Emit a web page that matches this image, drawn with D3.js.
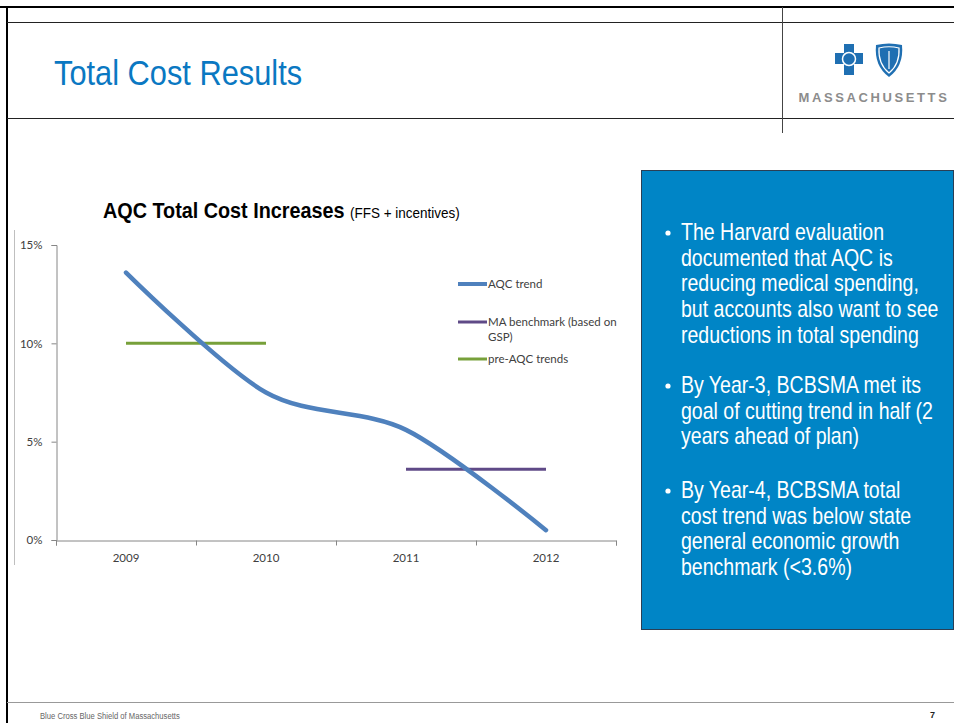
<!DOCTYPE html>
<html><head><meta charset="utf-8">
<script src="https://cdn.jsdelivr.net/npm/d3@7"></script>
<style>
html,body{margin:0;padding:0;background:#fff;}
svg{display:block;}
</style></head>
<body>
<svg id="chart" width="954" height="723"></svg>
<script>
const years = ["2009","2010","2011","2012"];
const aqcTrend = [13.6, 7.5, 5.6, 0.5];
const maBenchmark = [null, null, 3.6, 3.6];
const preAqc = [10, 10, null, null];
const yTicks = [0, 5, 10, 15];
const seriesNames = ["AQC trend", "MA benchmark (based on GSP)", "pre-AQC trends"];
const bullets = [
  ["The Harvard evaluation", "documented that AQC is", "reducing medical spending,", "but accounts also want to see", "reductions in total spending"],
  ["By Year-3, BCBSMA met its", "goal of cutting trend in half (2", "years ahead of plan)"],
  ["By Year-4, BCBSMA total", "cost trend was below state", "general economic growth", "benchmark (<3.6%)"]
];

const svg = d3.select("#chart");
const SF = '"Liberation Sans",Arial,sans-serif';
const CF = "Lato, 'Open Sans', sans-serif";

function narrow(parent, x, y, s) {
  return parent.append("text").attr("transform",`translate(${x},${y}) scale(${s},1)`).style("font-family",SF);
}

// slide frame
svg.append("line").attr("x1",0).attr("x2",954).attr("y1",7).attr("y2",7).attr("stroke","#000").attr("stroke-width",2);
svg.append("line").attr("x1",7).attr("x2",7).attr("y1",6).attr("y2",723).attr("stroke","#000").attr("stroke-width",2);
svg.append("line").attr("x1",7).attr("x2",954).attr("y1",22.5).attr("y2",22.5).attr("stroke","#222").attr("stroke-width",1);
svg.append("line").attr("x1",7).attr("x2",954).attr("y1",118.5).attr("y2",118.5).attr("stroke","#222").attr("stroke-width",1);
svg.append("line").attr("x1",782.5).attr("x2",782.5).attr("y1",7).attr("y2",133).attr("stroke","#444").attr("stroke-width",1);
svg.append("line").attr("x1",7).attr("x2",954).attr("y1",702.5).attr("y2",702.5).attr("stroke","#999").attr("stroke-width",1);

// title
narrow(svg,54,85,0.88).attr("fill","#0a78c2").style("font-size","35px").text("Total Cost Results");

// logo
const logo = svg.append("g").attr("transform","translate(834,44)");
logo.append("path").attr("d","M8,0 H18 V9 H27 V20 H18 V31 H8 V20 H-1 V9 H8 Z").attr("transform","translate(2,0)").attr("fill","#1f6fb2");
logo.append("circle").attr("cx",15).attr("cy",15).attr("r",6.5).attr("fill","none").attr("stroke","#fff").attr("stroke-width",1.5);
logo.append("path").attr("d","M42,1 Q55,-2 68,1 Q70,22 55,33 Q40,22 42,1 Z").attr("fill","#1f6fb2");
logo.append("path").attr("d","M45,4 Q55,1.5 65,4 Q66,20 55,29 Q44,20 45,4 Z").attr("fill","none").attr("stroke","#fff").attr("stroke-width",1.2);
logo.append("line").attr("x1",55).attr("x2",55).attr("y1",7).attr("y2",25).attr("stroke","#fff").attr("stroke-width",1.2);
svg.append("text").attr("x",874).attr("y",102).attr("text-anchor","middle").attr("fill","#8c8c8c")
  .style("font-family",SF).style("font-weight","bold").style("font-size","13px").style("letter-spacing","2.6px").text("MASSACHUSETTS");

// chart title
const ct = narrow(svg,103,218,0.9);
ct.append("tspan").style("font-size","22px").style("font-weight","bold").attr("fill","#000").text("AQC Total Cost Increases ");
ct.append("tspan").style("font-size","15px").attr("fill","#000").text("(FFS + incentives)");

// chart area frame (left edge)
svg.append("line").attr("x1",14.5).attr("x2",14.5).attr("y1",230).attr("y2",565).attr("stroke","#bfbfbf");

const x = d3.scaleBand().domain(years).range([56,616]);
const y = d3.scaleLinear().domain([0,15]).range([540,245]);

const yAxis = d3.axisLeft(y).tickValues(yTicks).tickFormat(d=>d+"%").tickSize(5).tickPadding(9);
const ga = svg.append("g").attr("transform","translate(56.5,0)").call(yAxis);
ga.select(".domain").attr("stroke","#868686");
ga.selectAll(".tick line").attr("stroke","#868686");
ga.selectAll("text").attr("fill","#404040").style("font-family",CF).style("font-size","11.5px");

const xAxis = d3.axisBottom(x).tickSize(5).tickSizeOuter(5).tickPadding(8);
const gx = svg.append("g").attr("transform","translate(0,540.5)").call(xAxis);
gx.select(".domain").attr("stroke","#868686");
gx.selectAll(".tick line").remove();
const bounds = years.map(d=>x(d)).concat([x.range()[1]]);
gx.selectAll(".bt").data(bounds).enter().append("line").attr("x1",d=>d+0.5).attr("x2",d=>d+0.5).attr("y1",0).attr("y2",5).attr("stroke","#868686");
gx.selectAll("text").attr("fill","#404040").style("font-family",CF).style("font-size","11.5px");

const cx = d => x(d) + x.bandwidth()/2;
const line = d3.line().defined(d=>d[1]!=null).x(d=>cx(d[0])).y(d=>y(d[1]));

svg.append("path").datum(years.map((yr,i)=>[yr,preAqc[i]])).attr("d",line).attr("fill","none").attr("stroke","#77a03a").attr("stroke-width",3);
svg.append("path").datum(years.map((yr,i)=>[yr,maBenchmark[i]])).attr("d",line).attr("fill","none").attr("stroke","#5f4a87").attr("stroke-width",3);
svg.append("path").datum(years.map((yr,i)=>[yr,aqcTrend[i]])).attr("d",line.curve(d3.curveCardinal.tension(0.1))).attr("fill","none").attr("stroke","#4f81bd").attr("stroke-width",4.5).attr("stroke-linecap","round");

// legend
const leg = [{c:"#4f81bd",w:4,y:284,lines:["AQC trend"]},
             {c:"#5f4a87",w:3,y:322,lines:["MA benchmark (based on","GSP)"]},
             {c:"#77a03a",w:3,y:359,lines:["pre-AQC trends"]}];
const lg = svg.append("g");
leg.forEach(l=>{
  lg.append("line").attr("x1",458).attr("x2",487).attr("y1",l.y).attr("y2",l.y).attr("stroke",l.c).attr("stroke-width",l.w);
  const t = lg.append("text").attr("x",488).attr("y",l.y+4).attr("fill","#404040").style("font-family",CF).style("font-size","11.5px");
  l.lines.forEach((s,i)=>t.append("tspan").attr("x",488).attr("dy",i?15:0).text(s));
});

// blue text box
svg.append("rect").attr("x",641.5).attr("y",170.5).attr("width",312).attr("height",459).attr("fill","#0085c6").attr("stroke","#2a3f55").attr("stroke-width",1);
const starts = [240, 393, 498];
bullets.forEach((b,bi)=>{
  svg.append("circle").attr("cx",668).attr("cy",starts[bi]-7).attr("r",2.6).attr("fill","#fff");
  b.forEach((s,i)=>{
    narrow(svg,681,starts[bi]+i*25.7,0.85).attr("fill","#fff").style("font-size","23px").text(s);
  });
});

// footer
narrow(svg,40,719,0.85).attr("fill","#666").style("font-size","9px").text("Blue Cross Blue Shield of Massachusetts");
svg.append("text").attr("x",930).attr("y",718).attr("fill","#222").style("font-family",SF).style("font-weight","bold").style("font-size","9px").text("7");
</script>
</body></html>
